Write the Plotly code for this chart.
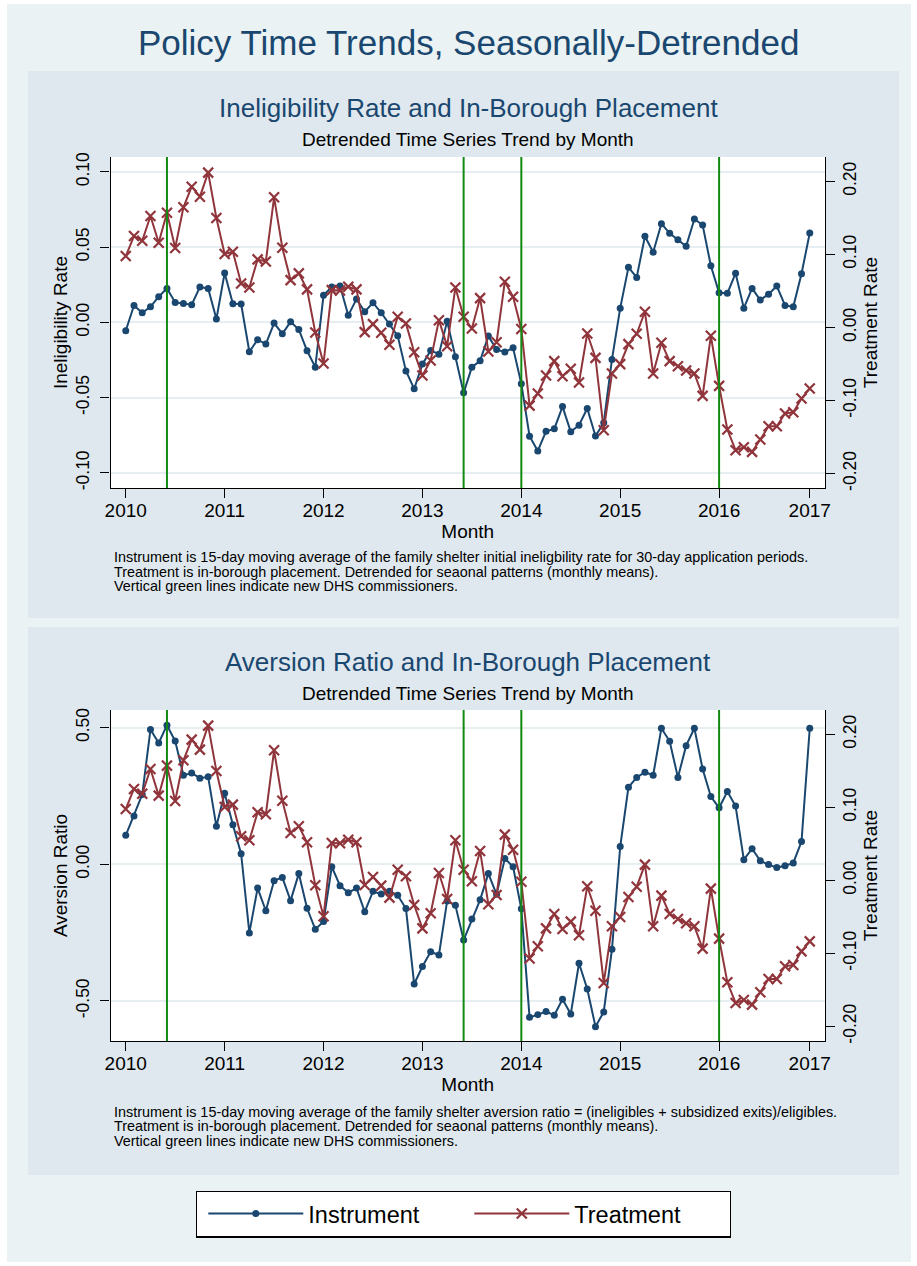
import plotly.graph_objects as go

# ---------------- data ----------------
months = list(range(84))  # 2010m1 .. 2016m12
year_tick_pos = [0, 12, 24, 36, 48, 60, 72, 83]
year_labels = ["2010", "2011", "2012", "2013", "2014", "2015", "2016", "2017"]
commissioner_months = [5, 41, 48, 72]

ineligibility_rate = [
    -0.0055, 0.0113, 0.0064, 0.0104, 0.0171, 0.0226, 0.0133, 0.0126, 0.0118, 0.0235, 0.0226, 0.0022,
    0.0328, 0.0124, 0.0122, -0.0195, -0.0115, -0.0144, -0.0004, -0.0075, 0.0004, -0.0047, -0.0188, -0.0297,
    0.0180, 0.0235, 0.0242, 0.0047, 0.0155, 0.0071, 0.0131, 0.0064, -0.0011, -0.0089, -0.0322, -0.0441,
    -0.0277, -0.0186, -0.0211, 0.0007, -0.0228, -0.0468, -0.0297, -0.0255, -0.0091, -0.0180, -0.0197, -0.0169,
    -0.0407, -0.0756, -0.0854, -0.0723, -0.0707, -0.0559, -0.0727, -0.0683, -0.0572, -0.0754, -0.0667, -0.0246,
    0.0095, 0.0366, 0.0299, 0.0572, 0.0466, 0.0656, 0.0592, 0.0550, 0.0506, 0.0687, 0.0647, 0.0377,
    0.0197, 0.0193, 0.0326, 0.0095, 0.0226, 0.0149, 0.0188, 0.0242, 0.0113, 0.0104, 0.0324, 0.0594,
]

aversion_ratio = [
    0.106, 0.177, 0.255, 0.493, 0.444, 0.509, 0.451, 0.326, 0.334, 0.315, 0.320, 0.139,
    0.260, 0.145, 0.039, -0.251, -0.087, -0.170, -0.060, -0.048, -0.133, -0.034, -0.161, -0.238,
    -0.209, -0.009, -0.078, -0.104, -0.087, -0.174, -0.099, -0.109, -0.099, -0.113, -0.162, -0.438,
    -0.374, -0.320, -0.332, -0.134, -0.150, -0.277, -0.200, -0.130, -0.034, -0.110, 0.021, -0.009,
    -0.163, -0.560, -0.550, -0.539, -0.552, -0.494, -0.548, -0.362, -0.456, -0.594, -0.540, -0.311,
    0.065, 0.282, 0.318, 0.337, 0.326, 0.498, 0.450, 0.318, 0.434, 0.498, 0.349, 0.248,
    0.207, 0.266, 0.213, 0.017, 0.057, 0.013, -0.001, -0.012, -0.005, 0.005, 0.083, 0.498,
]

treatment_rate = [
    0.0977, 0.1251, 0.1187, 0.1525, 0.1160, 0.1571, 0.1087, 0.1644, 0.1927, 0.1790, 0.2119, 0.1498,
    0.1005, 0.1037, 0.0603, 0.0548, 0.0932, 0.0904, 0.1781, 0.1091, 0.0648, 0.0740, 0.0521, -0.0068,
    -0.0493, 0.0511, 0.0507, 0.0557, 0.0521, -0.0064, 0.0046, -0.0073, -0.0237, 0.0146, 0.0055, -0.0338,
    -0.0658, -0.0452, 0.0100, -0.0256, 0.0548, 0.0146, -0.0014, 0.0402, -0.0329, -0.0201, 0.0626, 0.0420,
    -0.0020, -0.1070, -0.0904, -0.0658, -0.0461, -0.0667, -0.0566, -0.0753, -0.0082, -0.0416, -0.1406, -0.0630,
    -0.0502, -0.0228, -0.0087, 0.0215, -0.0630, -0.0210, -0.0461, -0.0530, -0.0589, -0.0630, -0.0936, -0.0114,
    -0.0799, -0.1397, -0.1680, -0.1640, -0.1703, -0.1534, -0.1352, -0.1352, -0.1178, -0.1160, -0.0973, -0.0836,
]

left_ticks_top = [-0.10, -0.05, 0.00, 0.05, 0.10]
left_ticks_bottom = [-0.50, 0.00, 0.50]
right_ticks = [-0.20, -0.10, 0.00, 0.10, 0.20]

notes_top = [
    "Instrument is 15-day moving average of the family shelter initial ineligbility rate for 30-day application periods.",
    "Treatment is in-borough placement. Detrended for seaonal patterns (monthly means).",
    "Vertical green lines indicate new DHS commissioners.",
]
notes_bottom = [
    "Instrument is 15-day moving average of the family shelter aversion ratio = (ineligibles + subsidized exits)/eligibles.",
    "Treatment is in-borough placement. Detrended for seaonal patterns (monthly means).",
    "Vertical green lines indicate new DHS commissioners.",
]

# ---------------- style ----------------
W, H = 917, 1266
NAVY = "#1A476F"
MAROON = "#90353B"
GREEN = "#128A12"
OUTER_BG = "#EAF2F3"
PANEL_BG = "#DFE8EE"
GRID = "#E6EEF2"
FONT = "Liberation Sans, Arial, Helvetica, sans-serif"


def px_x(p):
    return p / W


def px_y(p):
    return 1 - p / H


fig = go.Figure()

# ---------------- traces ----------------
inst_line = dict(color=NAVY, width=2)
treat_line = dict(color=MAROON, width=2)
inst_marker = dict(symbol="circle", size=7, color=NAVY)
treat_marker = dict(symbol="x-thin", size=10, color=MAROON, line=dict(color=MAROON, width=2.2))

fig.add_trace(go.Scatter(x=months, y=ineligibility_rate, mode="lines+markers", name="Instrument",
                         line=inst_line, marker=inst_marker, xaxis="x", yaxis="y", legendrank=1))
fig.add_trace(go.Scatter(x=months, y=treatment_rate, mode="lines+markers", name="Treatment",
                         line=treat_line, marker=treat_marker, xaxis="x", yaxis="y2", legendrank=2))
fig.add_trace(go.Scatter(x=months, y=aversion_ratio, mode="lines+markers", name="Instrument",
                         line=inst_line, marker=inst_marker, xaxis="x2", yaxis="y3", showlegend=False))
fig.add_trace(go.Scatter(x=months, y=treatment_rate, mode="lines+markers", name="Treatment",
                         line=treat_line, marker=treat_marker, xaxis="x2", yaxis="y4", showlegend=False))

# ---------------- axes ----------------
x_dom = [px_x(110.5), px_x(825)]
top_dom = [px_y(488), px_y(157)]
bot_dom = [px_y(1041), px_y(710)]
x_range = [-1.85, 84.85]

tick_font = dict(family=FONT, size=19, color="black")
ytick_font = dict(family=FONT, size=17.5, color="black")
title_font = dict(family=FONT, size=19, color="black")

common_x = dict(range=x_range, domain=x_dom, tickmode="array", tickvals=year_tick_pos, ticktext=year_labels,
                ticks="outside", ticklen=9, tickwidth=1.3, tickcolor="black", showline=True, linecolor="black",
                linewidth=1.3, showgrid=False, zeroline=False, tickfont=tick_font, automargin=False,
                ticklabelstandoff=-4,
                title=dict(text="Month", font=title_font, standoff=0))


def fmt(v):
    return f"{v:.2f}"


def yax(rng, dom, ticks, title, side="left", grid=True, overlay=None, anchor="x", lab_off=0, tstand=4):
    d = dict(range=rng, domain=dom, tickmode="array", tickvals=ticks, ticktext=[fmt(t) for t in ticks],
             tickangle=-90, ticks="outside", ticklen=9, tickwidth=1.3, tickcolor="black", showline=True,
             linecolor="black", linewidth=1.3, showgrid=grid, gridcolor=GRID, gridwidth=1.5, zeroline=False,
             tickfont=ytick_font, side=side, anchor=anchor, automargin=False, ticklabelstandoff=lab_off,
             title=dict(text=title, font=title_font, standoff=tstand))
    if overlay:
        d["overlaying"] = overlay
    return d


fig.update_layout(
    xaxis=dict(common_x, anchor="y"),
    xaxis2=dict(common_x, anchor="y3"),
    yaxis=yax([-0.11, 0.1099], top_dom, left_ticks_top, "Ineligibility Rate", lab_off=4, tstand=0),
    yaxis2=yax([-0.2197, 0.2333], top_dom, right_ticks, "Treatment Rate", side="right", grid=False,
               overlay="y", tstand=0),
    yaxis3=yax([-0.6465, 0.5646], bot_dom, left_ticks_bottom, "Aversion Ratio", anchor="x2", lab_off=4,
               tstand=0),
    yaxis4=yax([-0.2201, 0.2333], bot_dom, right_ticks, "Treatment Rate", side="right", grid=False,
               overlay="y3", anchor="x2", tstand=0),
)

# ---------------- backgrounds ----------------
shapes = [
    dict(type="rect", xref="paper", yref="paper", x0=px_x(7), x1=px_x(911), y0=px_y(1262), y1=px_y(4),
         fillcolor=OUTER_BG, line=dict(width=0), layer="below"),
    dict(type="rect", xref="paper", yref="paper", x0=px_x(28), x1=px_x(899), y0=px_y(618), y1=px_y(71),
         fillcolor=PANEL_BG, line=dict(width=0), layer="below"),
    dict(type="rect", xref="paper", yref="paper", x0=px_x(28), x1=px_x(899), y0=px_y(1175), y1=px_y(627),
         fillcolor=PANEL_BG, line=dict(width=0), layer="below"),
    dict(type="rect", xref="x domain", yref="y domain", x0=0, x1=1, y0=0, y1=1,
         fillcolor="white", line=dict(width=0), layer="below"),
    dict(type="rect", xref="x2 domain", yref="y3 domain", x0=0, x1=1, y0=0, y1=1,
         fillcolor="white", line=dict(width=0), layer="below"),
]
for m in commissioner_months:
    shapes.append(dict(type="line", xref="x", yref="y domain", x0=m, x1=m, y0=0, y1=1,
                       line=dict(color=GREEN, width=2)))
    shapes.append(dict(type="line", xref="x2", yref="y3 domain", x0=m, x1=m, y0=0, y1=1,
                       line=dict(color=GREEN, width=2)))

# ---------------- text ----------------
annotations = [
    dict(text="Policy Time Trends, Seasonally-Detrended", x=px_x(468), y=px_y(42),
         font=dict(family=FONT, size=35, color=NAVY)),
    dict(text="Ineligibility Rate and In-Borough Placement", x=px_x(468), y=px_y(108),
         font=dict(family=FONT, size=26, color=NAVY)),
    dict(text="Detrended Time Series Trend by Month", x=px_x(468), y=px_y(140),
         font=dict(family=FONT, size=19, color="black")),
    dict(text="Aversion Ratio and In-Borough Placement", x=px_x(468), y=px_y(662),
         font=dict(family=FONT, size=26, color=NAVY)),
    dict(text="Detrended Time Series Trend by Month", x=px_x(468), y=px_y(693),
         font=dict(family=FONT, size=19, color="black")),
]
for base, lines in ((557, notes_top), (1111.5, notes_bottom)):
    for i, line in enumerate(lines):
        annotations.append(dict(text=line, x=px_x(112), y=px_y(base + 14.6 * i), xanchor="left",
                                font=dict(family=FONT, size=14.4, color="black")))
for a in annotations:
    a.update(xref="paper", yref="paper", showarrow=False)
    a.setdefault("xanchor", "center")
    a.setdefault("yanchor", "middle")

fig.update_layout(
    width=W, height=H, margin=dict(l=0, r=0, t=0, b=0, autoexpand=False),
    paper_bgcolor="white", plot_bgcolor="white",
    shapes=shapes, annotations=annotations,
    font=dict(family=FONT),
    showlegend=True,
    legend=dict(orientation="h", x=px_x(463.5), y=px_y(1214), xanchor="center", yanchor="middle",
                bgcolor="white", bordercolor="black", borderwidth=1.3,
                font=dict(family=FONT, size=23.5, color="black"),
                entrywidth=150, itemwidth=95, indentation=6, tracegroupgap=0),
)

fig.write_html("out.html", post_script="document.body.style.margin='0';",
               config={"displayModeBar": False})
